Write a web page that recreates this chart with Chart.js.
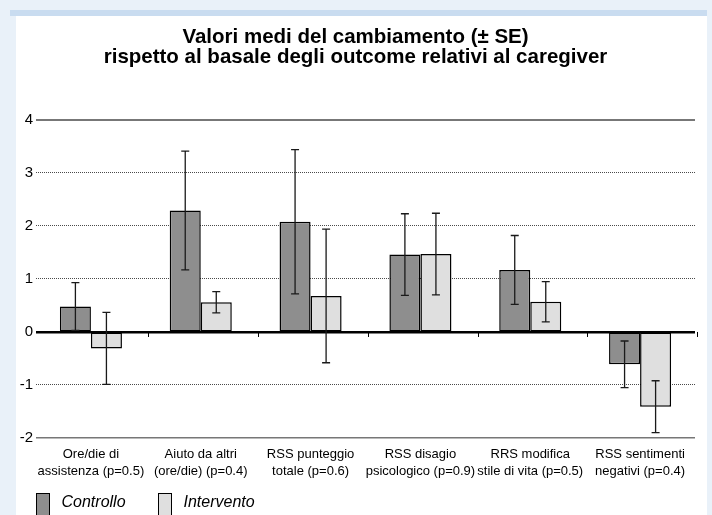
<!DOCTYPE html>
<html>
<head>
<meta charset="utf-8">
<script src="https://cdn.jsdelivr.net/npm/chart.js@4.4.0/dist/chart.umd.min.js"></script>
<style>
  body { margin: 0; background: #e9f1f9; width: 712px; height: 515px; overflow: hidden; position: relative; }
  #band { position: absolute; left: 10px; top: 10px; width: 697px; height: 6px; background: #c9dcf0; }
  #panel { position: absolute; left: 16px; top: 16px; width: 691px; height: 499px; background: #fff; }
</style>
</head>
<body>
<div id="band"></div>
<div id="panel"><canvas id="chart"></canvas></div>
<script>
// Data
const categories = [
    ['Ore/die di', 'assistenza (p=0.5)'],
    ['Aiuto da altri', '(ore/die) (p=0.4)'],
    ['RSS punteggio', 'totale (p=0.6)'],
    ['RSS disagio', 'psicologico (p=0.9)'],
    ['RRS modifica', 'stile di vita (p=0.5)'],
    ['RSS sentimenti', 'negativi (p=0.4)']
];
const controllo = [0.48, 2.29, 2.08, 1.46, 1.17, -0.61];
const controlloSE = [0.45, 1.12, 1.36, 0.77, 0.65, 0.44];
const intervento = [-0.31, 0.56, 0.68, 1.47, 0.57, -1.41];
const interventoSE = [0.68, 0.20, 1.26, 0.77, 0.38, 0.49];
const yTicks = [-2, -1, 0, 1, 2, 3, 4];
const seriesNames = ['Controllo', 'Intervento'];

const FONT = "'Liberation Sans', Arial, Helvetica, sans-serif";

// error bars + small category ticks on the zero line + legend
const extrasPlugin = {
    id: 'extras',
    afterDatasetsDraw(chart) {
        const ctx = chart.ctx;
        const y = chart.scales.y;
        const x = chart.scales.x;
        const seList = [controlloSE, interventoSE];
        ctx.save();
        chart.data.datasets.forEach((ds, i) => {
            const meta = chart.getDatasetMeta(i);
            meta.data.forEach((bar, j) => {
                const top = y.getPixelForValue(ds.data[j] + seList[i][j]);
                const bot = y.getPixelForValue(ds.data[j] - seList[i][j]);
                ctx.strokeStyle = '#1a1a1a';
                ctx.lineWidth = 1.3;
                ctx.beginPath();
                ctx.moveTo(bar.x, top);
                ctx.lineTo(bar.x, bot);
                ctx.moveTo(bar.x - 4, top);
                ctx.lineTo(bar.x + 4, top);
                ctx.moveTo(bar.x - 4, bot);
                ctx.lineTo(bar.x + 4, bot);
                ctx.stroke();
            });
        });
        // tick marks between categories
        const zero = y.getPixelForValue(0);
        ctx.strokeStyle = '#000';
        ctx.lineWidth = 1;
        for (let k = 0; k < categories.length; k++) {
            const px = Math.round(x.getPixelForValue(k + 0.52)) + 0.5;
            ctx.beginPath();
            ctx.moveTo(px, zero);
            ctx.lineTo(px, zero + 5);
            ctx.stroke();
        }
        ctx.restore();
    },
    afterDraw(chart) {
        const ctx = chart.ctx;
        const left = chart.chartArea.left;
        const offsets = [0, 122];
        ctx.save();
        ctx.font = 'italic 16px ' + FONT;
        ctx.textBaseline = 'alphabetic';
        ctx.textAlign = 'left';
        chart.data.datasets.forEach((ds, i) => {
            const bx = left + offsets[i] + 0.5;
            const by = chart.height - 22 + 0.5;
            ctx.fillStyle = ds.backgroundColor;
            ctx.fillRect(bx, by, 13, 26);
            ctx.strokeStyle = '#000';
            ctx.lineWidth = 1;
            ctx.strokeRect(bx, by, 13, 26);
            ctx.fillStyle = '#000';
            ctx.fillText(ds.label, bx + 25, chart.height - 8);
        });
        ctx.restore();
    }
};

new Chart(document.getElementById('chart'), {
    type: 'bar',
    data: {
        labels: categories,
        datasets: [{
            label: seriesNames[0],
            data: controllo,
            backgroundColor: '#8e8e8e',
            borderColor: '#000',
            borderWidth: 1.5,
            borderSkipped: false
        }, {
            label: seriesNames[1],
            data: intervento,
            backgroundColor: '#dfdfdf',
            borderColor: '#000',
            borderWidth: 1.5,
            borderSkipped: false
        }]
    },
    options: {
        responsive: true,
        maintainAspectRatio: false,
        animation: false,
        categoryPercentage: 0.565,
        barPercentage: 1.0,
        layout: { padding: { left: 0, right: 12, top: 0, bottom: 27 } },
        plugins: {
            legend: { display: false },
            tooltip: { enabled: false },
            title: {
                display: true,
                text: ['Valori medi del cambiamento (± SE)', 'rispetto al basale degli outcome relativi al caregiver'],
                color: '#000',
                font: { family: FONT, size: 20.5, weight: 'bold', lineHeight: 0.95 },
                padding: { top: 12, bottom: 53 }
            }
        },
        scales: {
            x: {
                grid: { display: false, drawTicks: false },
                border: { display: false },
                ticks: {
                    color: '#000',
                    font: { family: FONT, size: 13, lineHeight: '17px' },
                    padding: 8,
                    maxRotation: 0,
                    autoSkip: false
                }
            },
            y: {
                min: yTicks[0],
                max: yTicks[yTicks.length - 1],
                afterBuildTicks: s => { s.ticks = yTicks.map(v => ({ value: v })); },
                afterFit: s => { s.width = 20; },
                border: { display: false, dash: [1, 1] },
                grid: {
                    drawTicks: false,
                    lineWidth: 1,
                    color: c => ([4, 0, -2].includes(c.tick.value) ? 'rgba(0,0,0,0)' : '#4a4a4a')
                },
                ticks: {
                    color: '#000',
                    font: { family: FONT, size: 15 },
                    padding: 3
                }
            },
            y2: {
                position: 'left',
                min: yTicks[0],
                max: yTicks[yTicks.length - 1],
                afterBuildTicks: s => { s.ticks = yTicks.map(v => ({ value: v })); },
                afterFit: s => { s.width = 0; },
                border: { display: false },
                ticks: { display: false },
                grid: {
                    drawTicks: false,
                    color: c => {
                        if (c.tick.value === 0) return '#000';
                        if (c.tick.value === 4 || c.tick.value === -2) return '#777';
                        return 'rgba(0,0,0,0)';
                    },
                    lineWidth: c => {
                        if (c.tick.value === 0) return 2.5;
                        if (c.tick.value === 4) return 2;
                        if (c.tick.value === -2) return 1.5;
                        return 0;
                    }
                }
            }
        }
    },
    plugins: [extrasPlugin]
});
</script>
</body>
</html>
